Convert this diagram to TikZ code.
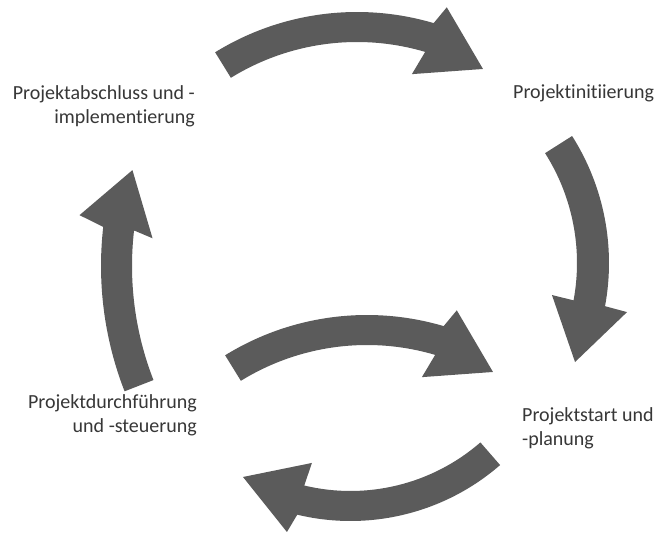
\documentclass[tikz,border=0pt]{standalone}
\usepackage{fontspec}
\setmainfont{Carlito}[Ligatures=NoCommon]
\begin{document}
\begin{tikzpicture}[x=1pt,y=1pt,
  blockarrow/.style={fill=arrowgray,draw=none},
  phase/.style={inner sep=0pt,text=labelgray,font=\fontsize{20}{24}\selectfont}]
\definecolor{arrowgray}{RGB}{91,91,91}
\definecolor{labelgray}{RGB}{55,55,55}
\fill[white] (0,0) rectangle (659,535);
\useasboundingbox (0,0) rectangle (659,535);

% phase labels (base anchor sits on the last line)
\node[phase,align=right,anchor=base east] (close) at (195,411) {Projektabschluss und -\\implementierung};
\node[phase,align=left,anchor=base west] (init) at (513,436) {Projektinitiierung};
\node[phase,align=left,anchor=base west] (start) at (522,89) {Projektstart und\\-planung};
\node[phase,align=right,anchor=base east] (exec) at (197,102) {Projektdurchführung\\und -steuerung};

% top arrow: closing -> initiation
\begin{scope}[shift={(357,253)}]
\fill[blockarrow] (121.7:270) arc[start angle=121.7,end angle=73.5,radius=270]
  -- (71.9:289) -- (59.4:247.5) -- (75.2:215) -- (73.5:240)
  arc[start angle=73.5,end angle=121.7,radius=240] -- cycle;
\end{scope}

% right arrow: initiation -> start
\begin{scope}[shift={(372,272)}]
\fill[blockarrow] (32.4:237) arc[start angle=32.4,end angle=-10.5,radius=237]
  -- (-10.9:259.7) -- (-26:225.9) -- (-10.1:182.8) -- (-10.5:205)
  arc[start angle=-10.5,end angle=32.4,radius=205] -- cycle;
\end{scope}

% left arrow: execution -> closing
\begin{scope}[shift={(446,269)}]
\fill[blockarrow] (201.3:345) arc[start angle=201.3,end angle=173.5,radius=345]
  -- (172.1:370) -- (163:327.9) -- (174.6:294.8) -- (173.5:314)
  arc[start angle=173.5,end angle=201.3,radius=314] -- cycle;
\end{scope}

% middle arrow: execution -> start
\begin{scope}[shift={(367,-50)}]
\fill[blockarrow] (121.7:270) arc[start angle=121.7,end angle=73.5,radius=270]
  -- (71.9:289) -- (59.4:247.5) -- (75.2:215) -- (73.5:240)
  arc[start angle=73.5,end angle=121.7,radius=240] -- cycle;
\end{scope}

% bottom arrow: start -> execution
\begin{scope}[shift={(350.5,242)}]
\fill[blockarrow] (-49:228) arc[start angle=-49,end angle=-103.5,radius=228]
  -- (-104.9:247.3) -- (-120.3:213.1) -- (-102.8:174.3) -- (-103.5:198)
  arc[start angle=-103.5,end angle=-49,radius=198] -- cycle;
\end{scope}
\end{tikzpicture}
\end{document}
